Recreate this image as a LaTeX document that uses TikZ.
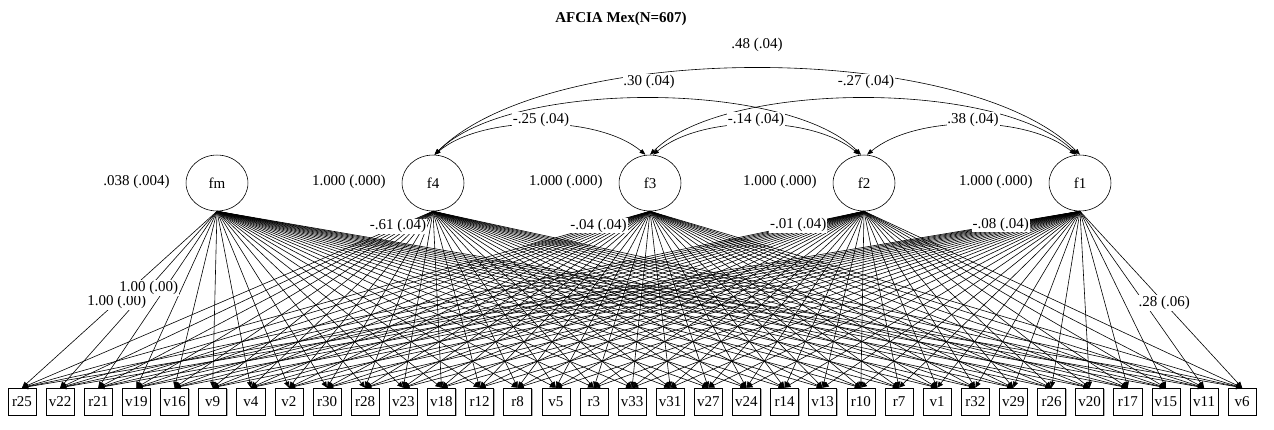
\documentclass[tikz,border=0pt]{standalone}
\usepackage{fontspec}
\setmainfont{Liberation Serif}
\usetikzlibrary{arrows.meta,shapes.geometric,shadows}
\tikzset{
  fac/.style={draw,ellipse,minimum width=41.3pt,minimum height=37.3pt,inner sep=0pt},
  obs/.style={draw,rectangle,minimum width=18.7pt,minimum height=18pt,inner sep=0pt,fill=white,
    drop shadow={shadow xshift=0.7pt,shadow yshift=-0.7pt,fill=gray!60,opacity=1}},
  load/.style={line width=0.4pt,-{Triangle[length=4pt,width=3.5pt]}},
  cov/.style={line width=0.4pt,{Triangle[length=4pt,width=3pt]}-{Triangle[length=4pt,width=3pt]}},
  lbl/.style={fill=white,inner sep=0.6pt},
}
\def\obslist{r25,v22,r21,v19,v16,v9,v4,v2,r30,r28,v23,v18,r12,r8,v5,r3,v33,v31,v27,v24,r14,v13,r10,r7,v1,r32,v29,r26,v20,r17,v15,v11,v6}
\begin{document}
\begin{tikzpicture}[x=0.667pt,y=-0.667pt]
  \useasboundingbox (0,0) rectangle (1274,429);
  \node[font=\bfseries] (title) at (621,19) {AFCIA Mex(N=607)};
  %factors
  \foreach \f/\x/\v in {fm/217/.038 (.004),f4/433/1.000 (.000),f3/650/1.000 (.000),f2/864/1.000 (.000),f1/1080/1.000 (.000)}
  {
    \node[fac] (\f) at (\x,183) {\f};
    \node[anchor=east] (var\f) at (\x-42,182) {\v};
  }
  %items
  \foreach \b [count=\i from 0] in \obslist
    \node[obs] (\b) at (22+38.13*\i,401.5) {\b};
  %loadings
  \foreach \f in {fm,f4,f3,f2,f1}
    \foreach \b in \obslist
      \draw[load] (\f.south) -- (\b.north);
  \path (fm.south) -- node[lbl,pos=.514] {1.00 (.00)} (r25.north);
  \path (fm.south) -- node[lbl,pos=.435] {1.00 (.00)} (v22.north);
  \path (f4.south) -- node[lbl,pos=.085] {-.61 (.04)} (r25.north);
  \path (f3.south) -- node[lbl,pos=.082] {-.04 (.04)} (r25.north);
  \path (f2.south) -- node[lbl,pos=.078] {-.01 (.04)} (r25.north);
  \path (f1.south) -- node[lbl,pos=.075] {-.08 (.04)} (r25.north);
  \path (f1.south) -- node[lbl,pos=.52] {.28 (.06)} (v6.north);
  %covariances
  \draw[cov] ([xshift=1pt]f4.north) .. controls +(48,-40) and +(-48,-40) .. ([xshift=-3pt]f3.north);
  \draw[cov] ([xshift=2pt]f3.north) .. controls +(48,-40) and +(-48,-40) .. ([xshift=-3pt]f2.north);
  \draw[cov] ([xshift=2pt]f2.north) .. controls +(48,-40) and +(-48,-40) .. ([xshift=-3pt]f1.north);
  \draw[cov] ([xshift=1pt]f4.north) .. controls +(75,-75) and +(-75,-75) .. ([xshift=-2pt]f2.north);
  \draw[cov] (f3.north) .. controls +(75,-75) and +(-75,-75) .. ([xshift=-2pt]f1.north);
  \draw[cov] ([xshift=1pt]f4.north) .. controls +(115,-115) and +(-115,-115) .. (f1.north);
  \node[lbl] (c43) at (541,120) {-.25 (.04)};
  \node[lbl] (c32) at (756,120) {-.14 (.04)};
  \node[lbl] (c21) at (973,120) {.38 (.04)};
  \node[lbl] (c42) at (649,82) {.30 (.04)};
  \node[lbl] (c31) at (866,82) {-.27 (.04)};
  \node (c41) at (757,45) {.48 (.04)};
\end{tikzpicture}
\end{document}
